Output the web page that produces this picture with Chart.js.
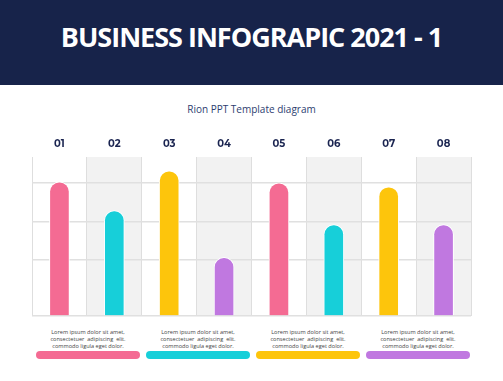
<!DOCTYPE html>
<html>
<head>
<meta charset="utf-8">
<script src="https://cdn.jsdelivr.net/npm/chart.js@4"></script>
<style>
  html, body { margin: 0; padding: 0; background: #fff; }
  #page { position: relative; width: 503px; height: 381px; overflow: hidden; font-family: "Open Sans", sans-serif; }
  #header { position: absolute; left: 0; top: 0; width: 503px; height: 85px; background: #17234a; }
  #header h1 { margin: 0; position: absolute; left: 0; width: 503px; top: 19px; text-align: center;
    color: #fff; font-size: 27px; font-weight: 700; letter-spacing: -1px; line-height: 36px; }
  #subtitle { position: absolute; left: 0; width: 503px; top: 102px; text-align: center;
    color: #2d3d70; font-size: 10px; line-height: 14px; }
  #chartBox { position: absolute; left: 0; top: 125px; width: 503px; height: 200px; }
  .note { position: absolute; top: 329px; width: 110px; text-align: center; color: #444;
    font-size: 5.6px; line-height: 7px; }
  .pill { position: absolute; top: 351px; width: 104px; height: 8px; border-radius: 4px; }
</style>
</head>
<body>
<div id="page">
  <div id="header"><h1>BUSINESS INFOGRAPIC 2021 - 1</h1></div>
  <div id="subtitle">Rion PPT Template diagram</div>
  <div id="chartBox"><canvas id="bars"></canvas></div>
  <div id="notes"></div>
</div>
<script>
// chart values
const categories = ['01', '02', '03', '04', '05', '06', '07', '08'];
const values = [135, 106, 146, 59, 134, 92, 130, 92];
const barColors = ['#f46b93', '#17cfd9', '#fdc50c', '#c078e0', '#f46b93', '#17cfd9', '#fdc50c', '#c078e0'];
const gridTicks = [0, 57, 95, 134];
const yMax = 160;

const noteText = 'Lorem ipsum dolor sit amet,<br>consectetuer &nbsp;adipiscing &nbsp;elit.<br>commodo ligula eget dolor.';
const pillColors = ['#f46b93', '#17cfd9', '#fdc50c', '#c078e0'];
const groupCenters = [88, 198, 308, 418];

// light grey band behind every second column
const columnShade = {
  id: 'columnShade',
  beforeDraw(chart) {
    const { ctx, chartArea, scales } = chart;
    const x = scales.x;
    const w = x.getPixelForValue(1) - x.getPixelForValue(0);
    ctx.save();
    ctx.fillStyle = '#f2f2f2';
    for (let i = 1; i < categories.length; i += 2) {
      const cx = x.getPixelForValue(i);
      ctx.fillRect(cx - w / 2, chartArea.top, w, chartArea.bottom - chartArea.top);
    }
    ctx.restore();
  }
};

function renderNotes() {
  const holder = document.getElementById('notes');
  groupCenters.forEach((c, i) => {
    const note = document.createElement('div');
    note.className = 'note';
    note.style.left = (c - 55) + 'px';
    note.innerHTML = noteText;
    holder.appendChild(note);

    const pill = document.createElement('div');
    pill.className = 'pill';
    pill.style.left = (c - 52) + 'px';
    pill.style.background = pillColors[i];
    holder.appendChild(pill);
  });
}

function renderBars() {
  const ctx = document.getElementById('bars').getContext('2d');
  new Chart(ctx, {
    type: 'bar',
    data: {
      labels: categories,
      datasets: [{
        data: values,
        backgroundColor: barColors,
        borderColor: '#ffffff',
        borderWidth: 1,
        borderSkipped: 'bottom',
        borderRadius: { topLeft: 10, topRight: 10, bottomLeft: 0, bottomRight: 0 },
        barThickness: 20
      }]
    },
    options: {
      responsive: true,
      maintainAspectRatio: false,
      animation: false,
      layout: { padding: { top: 6, left: 32, right: 32, bottom: 9 } },
      plugins: {
        legend: { display: false },
        tooltip: { enabled: false }
      },
      scales: {
        x: {
          position: 'top',
          offset: true,
          border: { display: false },
          grid: { color: '#dedede', lineWidth: 1, drawTicks: false, offset: true },
          ticks: { padding: 7, color: '#1a2450', font: { family: 'Montserrat, "Open Sans", sans-serif', size: 10, weight: 'bold' } }
        },
        y: {
          min: 0,
          max: yMax,
          border: { display: false },
          grid: { color: '#e0e0e0', lineWidth: 1.5, drawTicks: false },
          ticks: { display: false },
          afterBuildTicks(scale) {
            scale.ticks = gridTicks.map(v => ({ value: v }));
          }
        }
      }
    },
    plugins: [columnShade]
  });
}

renderNotes();
renderBars();
</script>
</body>
</html>
